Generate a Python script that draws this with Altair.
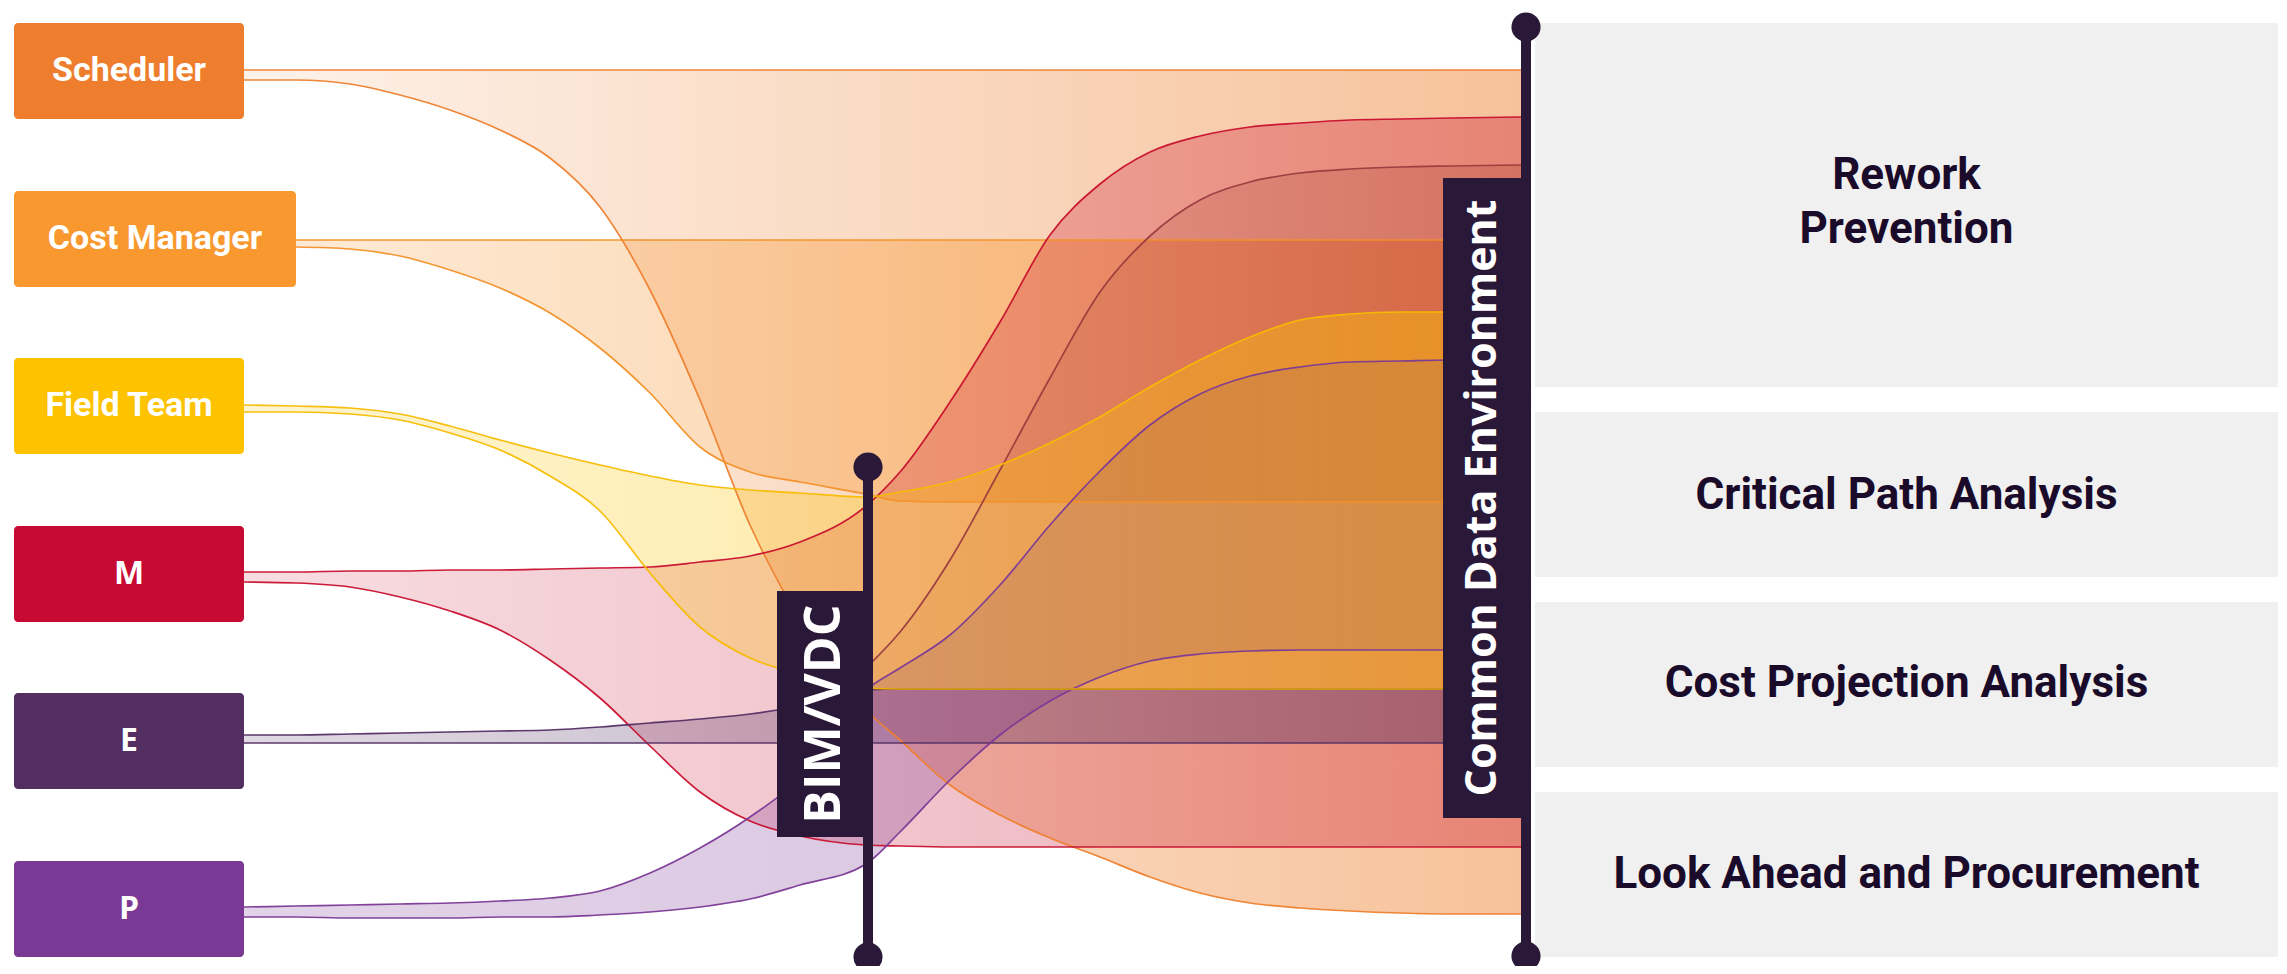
import altair as alt
import pandas as pd

# ---------------- data (pixel space of the 2287x974 image) -------------
X_KNOTS = [244, 296, 350, 400, 450, 500, 550, 600, 650, 700, 750, 800, 866,
           900, 950, 1000, 1050, 1100, 1150, 1200, 1250, 1300, 1350, 1400, 1450, 1521]

SCHED_TOP = [70, 70, 70, 70, 70, 70, 70, 70, 70, 70, 70, 70, 70,
             70, 70, 70, 70, 70, 70, 70, 70, 70, 70, 70, 70, 70]
SCHED_BOT = [80, 80, 84, 95, 110, 130, 158, 207, 290, 400, 525, 620, 710,
             740, 785, 815, 838, 857, 877, 893, 903, 908, 911, 913, 914, 914]

CM_TOP = [None, 240, 240, 240, 240, 240, 240, 240, 240, 240, 240, 240, 240,
          240, 240, 240, 240, 240, 240, 240, 240, 240, 240, 240, 240, 240]
CM_BOT = [None, 247, 249, 256, 270, 288, 313, 348, 393, 447, 472, 482, 494,
          501, 502, 502, 502, 502, 502, 502, 502, 502, 502, 502, 502, 502]

FT_TOP = [405, 406, 408, 414, 426, 440, 453, 465, 476, 485, 490, 493, 497,
          492, 482, 465, 443, 417, 387, 360, 337, 320, 314, 312, 312, 312]
FT_BOT = [412, 412, 414, 420, 433, 450, 476, 511, 573, 627, 658, 674, 688,
          689, 689, 689, 689, 689, 689, 689, 689, 689, 689, 689, 689, 689]

M_TOP = [572, 572, 571, 571, 570, 570, 569, 568, 567, 562, 556, 542, 506,
         472, 402, 322, 235, 184, 152, 136, 127, 123, 120, 119, 118, 117]
M_BOT = [582, 583, 587, 597, 611, 630, 660, 698, 746, 792, 821, 836, 845,
         846, 847, 847, 847, 847, 847, 847, 847, 847, 847, 847, 847, 847]

E_TOP = [735, 735, 734, 733, 732, 731, 730, 727, 723, 719, 714, 706, 690,
         689, 689, 689, 689, 689, 689, 689, 689, 689, 689, 689, 689, 689]
E_BOT = [743, 743, 743, 743, 743, 743, 743, 743, 743, 743, 743, 743, 743,
         743, 743, 743, 743, 743, 743, 743, 743, 743, 743, 743, 743, 743]

E2_TOP = [None, None, None, None, None, None, None, None, None, None, None, None, 668,
          632, 560, 470, 378, 292, 236, 200, 182, 173, 169, 167, 166, 165]
E2_BOT = [None, None, None, None, None, None, None, None, None, None, None, None, 689,
          689, 689, 689, 689, 689, 689, 689, 689, 689, 689, 689, 689, 689]

P_TOP = [907, 906, 905, 904, 903, 901, 898, 891, 873, 848, 817, 778, 690,
         668, 635, 585, 525, 471, 425, 394, 376, 367, 362, 361, 360, 360]
P_BOT = [917, 917, 918, 918, 918, 917, 917, 915, 912, 907, 899, 885, 864,
         832, 780, 735, 701, 677, 661, 654, 651, 650, 650, 650, 650, 650]

SRC_NAMES = ["Scheduler", "Cost Manager", "Field Team", "M", "E", "P"]
SRC_X0 = [14, 14, 14, 14, 14, 14]
SRC_X1 = [244, 296, 244, 244, 244, 244]
SRC_Y0 = [23, 191, 358, 526, 693, 861]
SRC_Y1 = [119, 287, 454, 622, 789, 957]
SRC_COLORS = ["#EE7E2D", "#F8982F", "#FDC200", "#C70A32", "#532E61", "#7A3994"]

OUT_NAMES = ["Rework\nPrevention", "Critical Path Analysis",
             "Cost Projection Analysis", "Look Ahead and Procurement"]
OUT_X0 = [1535, 1535, 1535, 1535]
OUT_X1 = [2278, 2278, 2278, 2278]
OUT_Y0 = [23, 412, 602, 792]
OUT_Y1 = [387, 577, 767, 957]
OUT_TEXT_Y = [176, 496, 684, 875]

HUB_NAMES = ["BIM/VDC", "Common Data Environment"]
HUB_BOX_X0 = [777, 1443]
HUB_BOX_X1 = [866, 1521]
HUB_BOX_Y0 = [591, 178]
HUB_BOX_Y1 = [837, 818]
HUB_TEXT_X = [825, 1483]
HUB_TEXT_Y = [714, 498]
HUB_FONT_SIZE = [50, 43]
POLE_X = [868, 1526]
POLE_Y0 = [467, 27]
POLE_Y1 = [957, 956]

DARK = "#2A1838"

# ---------------- helpers -------------
XS = alt.Scale(domain=[8, 2279], nice=False, zero=False)
YS = alt.Scale(domain=[966, 8], nice=False, zero=False)


def X(f):
    return alt.X(f, type="quantitative", scale=XS, axis=None)


def Y(f):
    return alt.Y(f, type="quantitative", scale=YS, axis=None)


def band_df(top, bot):
    rows = [{"x": x, "top": t, "bot": b} for x, t, b in zip(X_KNOTS, top, bot)
            if t is not None and b is not None]
    return pd.DataFrame(rows)


def rgba(hexc, a):
    h = hexc.lstrip("#")
    r, g, b = int(h[0:2], 16), int(h[2:4], 16), int(h[4:6], 16)
    return f"rgba({r},{g},{b},{a})"


# band: (top, bottom, fill colour, alpha left, alpha right, stroke colour)
BANDS = [
    (SCHED_TOP, SCHED_BOT, "#EE7F2D", 0.10, 0.48, "#EE7F2D"),
    (CM_TOP, CM_BOT, "#F7962F", 0.20, 0.55, "#F39028"),
    (M_TOP, M_BOT, "#C8102E", 0.14, 0.35, "#C8102E"),
    (E2_TOP, E2_BOT, "#A0402A", 0.10, 0.25, "#9A3B3F"),
    (E_TOP, E_BOT, "#542F63", 0.18, 0.45, "#542F63"),
    (P_TOP, P_BOT, "#7B3996", 0.22, 0.32, "#7B3996"),
    (FT_TOP, FT_BOT, "#FDC300", 0.18, 0.45, "#F7BC00"),
]

layers = []

# right-hand panels
panels = pd.DataFrame({"x0": OUT_X0, "x1": OUT_X1, "y0": OUT_Y0, "y1": OUT_Y1,
                       "name": OUT_NAMES, "ty": OUT_TEXT_Y,
                       "cx": [(a + b) / 2 for a, b in zip(OUT_X0, OUT_X1)]})
layers.append(alt.Chart(panels).mark_rect(color="#F0F0F0").encode(
    x=X("x0"), x2="x1", y=Y("y0"), y2="y1"))

# filled bands
for top, bot, col, a0, a1, sc in BANDS:
    df = band_df(top, bot)
    grad = alt.Gradient(gradient="linear",
                        stops=[alt.GradientStop(color=rgba(col, a0), offset=0),
                               alt.GradientStop(color=rgba(col, a1), offset=1)],
                        x1=0, x2=1, y1=0, y2=0)
    layers.append(alt.Chart(df).mark_area(interpolate="monotone", fill=grad).encode(
        x=X("x"), y=Y("top"), y2=alt.Y2("bot")))

# band edges
for top, bot, col, a0, a1, sc in BANDS:
    df = band_df(top, bot)
    for fld in ["top", "bot"]:
        layers.append(alt.Chart(df).mark_line(interpolate="monotone", strokeWidth=1.7,
                                              color=sc, opacity=0.95).encode(
            x=X("x"), y=Y(fld), order="x:Q"))

# hub label boxes
hubs = pd.DataFrame({"x0": HUB_BOX_X0, "x1": HUB_BOX_X1, "y0": HUB_BOX_Y0, "y1": HUB_BOX_Y1,
                     "tx": HUB_TEXT_X, "ty": HUB_TEXT_Y, "name": HUB_NAMES,
                     "fs": HUB_FONT_SIZE,
                     "px": POLE_X, "py0": POLE_Y0, "py1": POLE_Y1})
layers.append(alt.Chart(hubs).mark_rect(color=DARK).encode(
    x=X("x0"), x2="x1", y=Y("y0"), y2="y1"))
layers.append(alt.Chart(hubs).mark_rule(color=DARK, strokeWidth=10).encode(
    x=X("px"), y=Y("py0"), y2="py1"))
dots = pd.DataFrame({"x": POLE_X + POLE_X, "y": POLE_Y0 + POLE_Y1})
layers.append(alt.Chart(dots).mark_circle(color=DARK, opacity=1, size=850).encode(
    x=X("x"), y=Y("y")))
layers.append(alt.Chart(hubs).mark_text(angle=270, align="center", baseline="middle",
                                        font="Open Sans", fontWeight="bold",
                                        color="white").encode(
    x=X("tx"), y=Y("ty"), text="name:N",
    size=alt.Size("fs:Q", scale=None)))

# source boxes
src = pd.DataFrame({"x0": SRC_X0, "x1": SRC_X1, "y0": SRC_Y0, "y1": SRC_Y1,
                    "name": SRC_NAMES, "color": SRC_COLORS,
                    "cx": [(a + b) / 2 for a, b in zip(SRC_X0, SRC_X1)],
                    "cy": [(a + b) / 2 for a, b in zip(SRC_Y0, SRC_Y1)]})
layers.append(alt.Chart(src).mark_rect(cornerRadius=4).encode(
    x=X("x0"), x2="x1", y=Y("y0"), y2="y1",
    color=alt.Color("color:N", scale=None)))
layers.append(alt.Chart(src.iloc[:3]).mark_text(font="Roboto", fontWeight="bold", fontSize=34,
                                                color="white", baseline="middle").encode(
    x=X("cx"), y=Y("cy"), text="name:N"))
layers.append(alt.Chart(src.iloc[3:]).mark_text(font="Open Sans", fontWeight="bold", fontSize=32,
                                                color="white", baseline="middle").encode(
    x=X("cx"), y=Y("cy"), text="name:N"))

# outcome labels
layers.append(alt.Chart(panels).mark_text(font="Roboto", fontWeight="bold", fontSize=44,
                                          color="#1B0B2B", baseline="middle", lineBreak="\n",
                                          lineHeight=54).encode(
    x=X("cx"), y=Y("ty"), text="name:N"))

chart = alt.layer(*layers).properties(
    width=2271, height=958, padding=0, background="white",
    autosize=alt.AutoSizeParams(type="none"),
).configure_view(stroke=None)

chart.save("out.html", embed_options={"renderer": "svg", "actions": False})
